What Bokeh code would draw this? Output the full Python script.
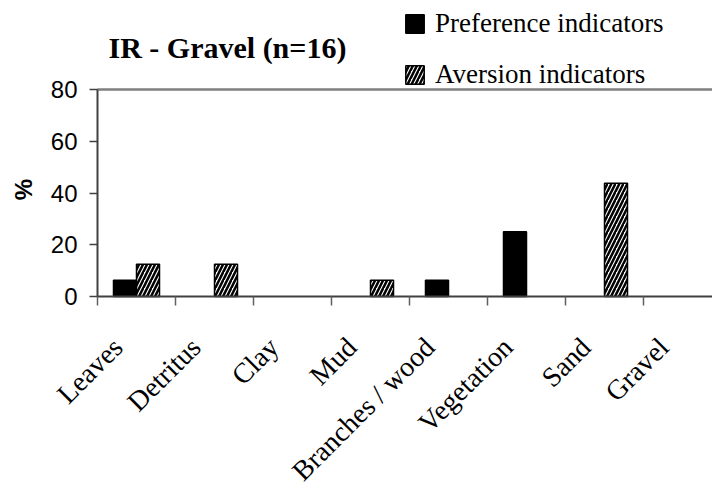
import math
from bokeh.plotting import figure
from bokeh.models import (ColumnDataSource, Range1d, FixedTicker, Legend, LegendItem, Label, BoxAnnotation)
from bokeh.transform import dodge
from bokeh.embed import file_html
from bokeh.resources import INLINE

categories = ["Leaves", "Detritus", "Clay", "Mud", "Branches / wood", "Vegetation", "Sand", "Gravel"]
preference = [6.25, 0, 0, 0, 6.25, 25, 0, 0]
aversion = [12.5, 12.5, 0, 6.25, 0, 0, 43.75, 0]
y_ticks = [0, 20, 40, 60, 80]
title_text = "IR - Gravel (n=16)"
series_names = ["Preference indicators", "Aversion indicators"]
y_label = "%"

idx = list(range(len(categories)))
pref_src = ColumnDataSource(dict(x=[i for i, v in zip(idx, preference) if v > 0],
                                 top=[v for v in preference if v > 0]))
av_src = ColumnDataSource(dict(x=[i for i, v in zip(idx, aversion) if v > 0],
                               top=[v for v in aversion if v > 0]))

W, H = 712, 486
# the frame covers the whole canvas; the plot area runs from x=97 and y=89..296
px_per_cat = 78.0
px_per_unit = 207 / 80.0
x_start = -0.5 - 97 / px_per_cat
x_end = -0.5 + (W - 97) / px_per_cat
y_max = y_ticks[-1]
y_top = y_max + 89 / px_per_unit
y_bot = -(H - 296) / px_per_unit

p = figure(width=W, height=H, output_backend="svg", toolbar_location=None,
           x_range=Range1d(x_start, x_end), y_range=Range1d(y_bot, y_top),
           min_border=0, min_border_left=0, min_border_right=0,
           min_border_top=0, min_border_bottom=0)
p.outline_line_color = None
p.xgrid.visible = False
p.ygrid.visible = False
p.background_fill_color = "white"
p.border_fill_color = "white"

xa = p.below[0]
ya = p.left[0]

# top border of the plot area at the axis maximum (a thin band plus a line)
p.add_layout(BoxAnnotation(left=-0.5, right=x_end + 1, bottom=y_max - 0.35, top=y_max + 0.35,
                           fill_color="#808080", fill_alpha=1.0, line_color=None, level="underlay"))
p.segment(x0=[-0.5], x1=[x_end + 1], y0=[y_max], y1=[y_max], line_color="#808080", line_width=2)

bw = 0.295
r1 = p.vbar(x=dodge("x", -bw / 2, range=p.x_range), top="top", width=bw, source=pref_src,
            fill_color="black", line_color="black", line_width=1.5)
r2 = p.vbar(x=dodge("x", bw / 2, range=p.x_range), top="top", width=bw, source=av_src,
            fill_color="white", line_color="black", line_width=1.5,
            hatch_pattern="/", hatch_color="black", hatch_scale=8, hatch_weight=2.5)

# x axis, drawn at y = 0
lab_shift = 0.24
xa.fixed_location = 0
xa.bounds = (-0.5, x_end)
xa.ticker = FixedTicker(ticks=[round(i - lab_shift, 2) for i in idx],
                        minor_ticks=[i - 0.5 for i in range(len(categories) + 1)])
xa.major_label_overrides = {round(i - lab_shift, 2): c for i, c in enumerate(categories)}
xa.major_label_orientation = math.pi / 4
xa.major_tick_out = 0
xa.major_tick_in = 0
xa.minor_tick_out = 9
xa.minor_tick_in = 0
xa.minor_tick_line_color = "#606060"
xa.minor_tick_line_width = 1.5
xa.axis_line_color = "#404040"
xa.axis_line_width = 2
xa.major_label_text_font = "Liberation Serif"
xa.major_label_text_font_size = "28px"
xa.major_label_text_color = "black"
xa.major_label_standoff = 37

# y axis, drawn at the left edge of the plot area
ya.fixed_location = -0.5
ya.ticker = FixedTicker(ticks=y_ticks)
ya.bounds = (0, y_max)
ya.major_tick_out = 8
ya.major_tick_in = 0
ya.minor_tick_out = 0
ya.minor_tick_in = 0
ya.major_tick_line_color = "#404040"
ya.major_tick_line_width = 1.5
ya.axis_line_color = "#404040"
ya.axis_line_width = 2
ya.major_label_text_font = "Liberation Sans"
ya.major_label_text_font_size = "24px"
ya.major_label_text_color = "black"
ya.major_label_standoff = 12

pct = Label(x=23, y=H - 189, x_units="screen", y_units="screen", text=y_label,
            angle=math.pi / 2, text_font="Liberation Sans", text_font_style="bold",
            text_font_size="24px", text_color="black", text_align="center",
            text_baseline="middle")
p.add_layout(pct)

title = Label(x=108, y=H - 47, x_units="screen", y_units="screen", text=title_text,
              text_font="Liberation Serif", text_font_style="bold", text_font_size="30px",
              text_color="black", text_baseline="alphabetic", text_align="left")
p.add_layout(title)

legend = Legend(items=[LegendItem(label=series_names[0], renderers=[r1]),
                       LegendItem(label=series_names[1], renderers=[r2])],
                location=(403, H - 90), orientation="vertical",
                glyph_width=23, glyph_height=23, label_height=19, spacing=20,
                padding=0, margin=0, label_standoff=9,
                label_text_font="Liberation Serif", label_text_font_size="27px",
                label_text_color="black", border_line_color=None, background_fill_alpha=0)
p.add_layout(legend)

open("out.html", "w").write(file_html(p, INLINE))
